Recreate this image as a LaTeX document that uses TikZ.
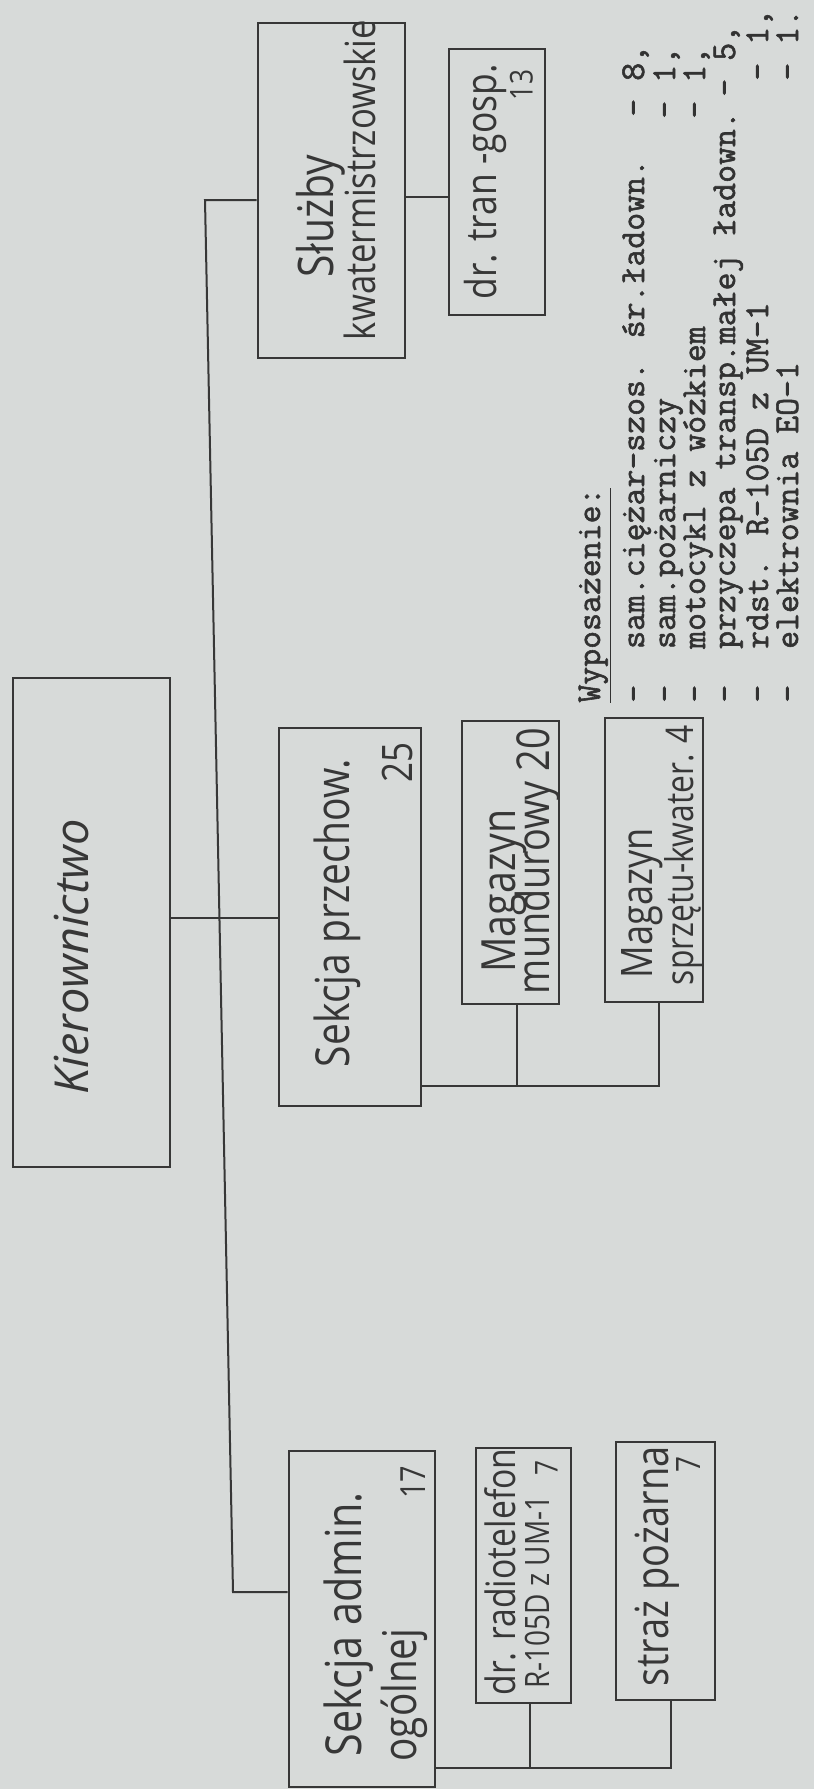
\documentclass[tikz,border=0pt]{standalone}
\usepackage{fontspec}
\usepackage{graphicx}
\setmainfont{Liberation Serif}
\newfontfamily\hand{Open Sans}
\newfontfamily\typew{Latin Modern Mono}[FakeBold=1.6]
\definecolor{paper}{RGB}{215,218,217}
\definecolor{ink}{RGB}{55,55,55}
\definecolor{typeink}{RGB}{50,50,50}
\newcommand{\hw}[3][]{\resizebox{#2}{!}{\scalebox{1}[1.2]{\hand#1\strut #3}}}
\newcommand{\hwk}[2]{\resizebox{#1}{!}{\scalebox{1}[1.0]{\hand\itshape\strut #2}}}
\begin{document}
\begin{tikzpicture}[x=0.5pt,y=-0.5pt,
  box/.style={draw=ink, line width=1.4pt, inner sep=0pt, rectangle},
  conn/.style={draw=ink, line width=1pt},
  lbl/.style={rotate=90, inner sep=0pt, text=ink},
  typed/.style={rotate=90, inner sep=0pt, anchor=west, text=typeink,
    font=\typew\fontsize{17.4pt}{20pt}\selectfont}]
\fill[paper] (0,0) rectangle (814,1789);
\useasboundingbox (0,0) rectangle (814,1789);

% boxes
\node[box, minimum width=78.5pt, minimum height=244.5pt] (kier) at (91.5,922.5) {};
\node[box, minimum width=71pt, minimum height=189pt] (sp) at (350,917) {};
\node[box, minimum width=48.5pt, minimum height=141.5pt] (mm) at (510.5,862.5) {};
\node[box, minimum width=49pt, minimum height=142pt] (ms) at (654,860) {};
\node[box, minimum width=73.5pt, minimum height=167.5pt] (sk) at (331.5,190.5) {};
\node[box, minimum width=48pt, minimum height=133pt] (dt) at (497,182) {};
\node[box, minimum width=73pt, minimum height=168pt] (sa) at (362,1619) {};
\node[box, minimum width=47.5pt, minimum height=127.5pt] (dr) at (523.5,1575.5) {};
\node[box, minimum width=49.5pt, minimum height=129pt] (st) at (665.5,1571) {};

% labels
\node[lbl] (t-kier) at (77,957) {\hwk{137.5pt}{Kierownictwo}};
\node[lbl] (t-sp) at (338,913) {\hw{154pt}{Sekcja przechow.}};
\node[lbl] (t-sp2) at (402,762) {\hw{20pt}{25}};
\node[lbl] (t-mm1) at (504,891) {\hw{81.5pt}{Magazyn}};
\node[lbl] (t-mm2) at (539,861) {\hw{133pt}{mundurowy 20}};
\node[lbl] (t-ms1) at (642,903) {\hw{75pt}{Magazyn}};
\node[lbl] (t-ms2) at (684,855) {\hw{130pt}{sprzętu-kwater. 4}};
\node[lbl] (t-sk1) at (322,216) {\hw{61pt}{Służby}};
\node[lbl] (t-sk2) at (366,180) {\hw{160pt}{kwatermistrzowskie}};
\node[lbl] (t-dt1) at (486,182) {\hw{117.5pt}{dr. tran -gosp.}};
\node[lbl] (t-dt2) at (525,85) {\hw{15pt}{13}};
\node[lbl] (t-sa1) at (350,1624) {\hw{132pt}{Sekcja admin.}};
\node[lbl] (t-sa2) at (405,1695) {\hw{66.5pt}{ogólnej}};
\node[lbl] (t-sa3) at (417,1482) {\hw{16.5pt}{17}};
\node[lbl] (t-dr1) at (506,1572) {\hw{123.5pt}{dr. radiotelefon}};
\node[lbl] (t-dr2) at (541,1592) {\hw{96.5pt}{R-105D z UM-1}};
\node[lbl] (t-dr3) at (550,1468) {\hw{7.5pt}{7}};
\node[lbl] (t-st1) at (658,1566) {\hw{120pt}{straż pożarna}};
\node[lbl] (t-st2) at (692,1464) {\hw{8pt}{7}};

% connectors
\coordinate (t1) at (205,200);
\coordinate (t2) at (233,1592);
\coordinate (j1) at (219.4,918);
\coordinate (c1) at (427,197);
\coordinate (b1) at (517,1086);
\coordinate (b2) at (659,1086);
\coordinate (d1) at (530,1768);
\coordinate (d2) at (671,1768);
\draw[conn] (sk.west |- t1) -- (t1) -- (t2) -- (sa.west |- t2);
\draw[conn] (kier.east |- j1) -- (sp.west |- j1);
\draw[conn] (sk.east |- c1) -- (dt.west |- c1);
\draw[conn] (sp.east |- b1) -- (b2) -- (ms.south -| b2);
\draw[conn] (b1) -- (mm.south -| b1);
\draw[conn] (sa.east |- d1) -- (d2) -- (st.south -| d2);
\draw[conn] (d1) -- (dr.south -| d1);

% equipment list
\node[typed] (wyp) at (592,703) {\underline{Wyposażenie:}\strut};
\node[typed] (l1) at (636,703) {\strut -~~sam.ciężar-szos. śr.ładown.};
\node[typed] (l2) at (667,703) {\strut -~~sam.pożarniczy};
\node[typed] (l3) at (697,703) {\strut -~~motocykl z wózkiem};
\node[typed] (l4) at (727,703) {\strut -~~przyczepa transp.małej ładown.};
\node[typed] (l5) at (760,703) {\strut -~~rdst. R-105D z UM-1};
\node[typed] (l6) at (790,703) {\strut -~~elektrownia EO-1};
\node[typed] (n1) at (636,117) {\strut - 8,};
\node[typed] (n2) at (667,119) {\strut - 1,};
\node[typed] (n3) at (697,119) {\strut - 1,};
\node[typed] (n4) at (727,97) {\strut - 5,};
\node[typed] (n5) at (760,81) {\strut - 1,};
\node[typed] (n6) at (790,81) {\strut - 1.};
\end{tikzpicture}
\end{document}
